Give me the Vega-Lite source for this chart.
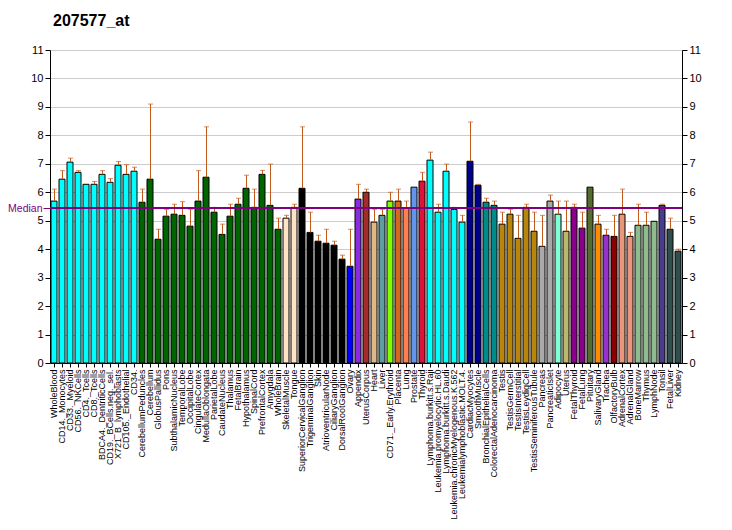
{
  "$schema": "https://vega.github.io/schema/vega-lite/v6.json",
  "width": 632,
  "height": 313,
  "autosize": {"type": "none"},
  "padding": {"left": 50, "top": 50, "right": 50, "bottom": 167},
  "title": {"text": "207577_at", "anchor": "start", "frame": "group", "fontSize": 16, "fontWeight": "bold", "font": "Liberation Sans", "color": "#000000", "offset": 15, "dx": 3},
  "config": {
    "view": {"stroke": null},
    "font": "Liberation Sans",
    "axis": {"labelFont": "Liberation Sans", "labelColor": "#000000", "domainColor": "#000000", "tickColor": "#000000", "titleFont": "Liberation Sans"}
  },
  "data": {"values": [
    {"tissue": "WholeBlood", "group": "blood", "value": 5.69, "err": 6.11},
    {"tissue": "CD14._Monocytes", "group": "blood", "value": 6.46, "err": 6.76},
    {"tissue": "CD33._Myeloid", "group": "blood", "value": 7.06, "err": 7.2},
    {"tissue": "CD56._NKCells", "group": "blood", "value": 6.7, "err": 6.76},
    {"tissue": "CD4._Tcells", "group": "blood", "value": 6.28, "err": null},
    {"tissue": "CD8._Tcells", "group": "blood", "value": 6.28, "err": 6.38},
    {"tissue": "BDCA4._DentriticCells", "group": "blood", "value": 6.63, "err": 6.76},
    {"tissue": "CD19._BCells.neg._sel.", "group": "blood", "value": 6.35, "err": 6.48},
    {"tissue": "X721_B_lymphoblasts", "group": "blood", "value": 6.95, "err": 7.08},
    {"tissue": "CD105._Endothelial", "group": "blood", "value": 6.63, "err": 6.97},
    {"tissue": "CD34.", "group": "blood", "value": 6.74, "err": 6.88},
    {"tissue": "CerebellumPeduncles", "group": "brain", "value": 5.65, "err": 6.11},
    {"tissue": "Cerebellum", "group": "brain", "value": 6.46, "err": 9.1},
    {"tissue": "GlobusPallidus", "group": "brain", "value": 4.35, "err": 4.7},
    {"tissue": "Pons", "group": "brain", "value": 5.16, "err": 5.4},
    {"tissue": "SubthalamicNucleus", "group": "brain", "value": 5.23, "err": 5.58},
    {"tissue": "TemporalLobe", "group": "brain", "value": 5.19, "err": 5.67},
    {"tissue": "OccipitalLobe", "group": "brain", "value": 4.81, "err": 5.4},
    {"tissue": "CingulateCortex", "group": "brain", "value": 5.69, "err": 6.76},
    {"tissue": "MedullaOblongata", "group": "brain", "value": 6.53, "err": 8.3},
    {"tissue": "ParietalLobe", "group": "brain", "value": 5.3, "err": 5.47},
    {"tissue": "CaudateNucleus", "group": "brain", "value": 4.52, "err": 4.88},
    {"tissue": "Thalamus", "group": "brain", "value": 5.16, "err": 5.58},
    {"tissue": "FetalBrain", "group": "brain", "value": 5.58, "err": 5.79},
    {"tissue": "Hypothalamus", "group": "brain", "value": 6.14, "err": 6.6},
    {"tissue": "SpinalCord", "group": "brain", "value": 5.47, "err": 6.11},
    {"tissue": "PrefrontalCortex", "group": "brain", "value": 6.63, "err": 6.77},
    {"tissue": "Amygdala", "group": "brain", "value": 5.54, "err": 6.99},
    {"tissue": "WholeBrain", "group": "brain", "value": 4.7, "err": 5.09},
    {"tissue": "SkeletalMuscle", "group": "muscle", "value": 5.09, "err": 5.19},
    {"tissue": "Tongue", "group": "muscle", "value": 5.47, "err": 5.58},
    {"tissue": "SuperiorCervicalGanglion", "group": "ganglion", "value": 6.14, "err": 8.3},
    {"tissue": "TrigeminalGanglion", "group": "ganglion", "value": 4.59, "err": 5.3},
    {"tissue": "Skin", "group": "ganglion", "value": 4.28, "err": 4.49},
    {"tissue": "AtrioventricularNode", "group": "ganglion", "value": 4.21, "err": 4.7},
    {"tissue": "CiliaryGanglion", "group": "ganglion", "value": 4.14, "err": 4.28},
    {"tissue": "DorsalRootGanglion", "group": "ganglion", "value": 3.65, "err": 3.79},
    {"tissue": "Ovary", "group": "ovary", "value": 3.4, "err": 4.7},
    {"tissue": "Appendix", "group": "appendix", "value": 5.76, "err": 6.28},
    {"tissue": "UterusCorpus", "group": "uteruscorpus", "value": 6.0, "err": 6.11},
    {"tissue": "Heart", "group": "heart", "value": 4.95, "err": 5.4},
    {"tissue": "Liver", "group": "liver", "value": 5.19, "err": 5.4},
    {"tissue": "CD71._Early.Erythroid", "group": "erythroid", "value": 5.69, "err": 6.0},
    {"tissue": "Placenta", "group": "placenta", "value": 5.69, "err": 6.11},
    {"tissue": "Lung", "group": "lung", "value": 5.44, "err": 5.69},
    {"tissue": "Prostate", "group": "prostate", "value": 6.18, "err": null},
    {"tissue": "Thyroid", "group": "thyroid", "value": 6.39, "err": 6.7},
    {"tissue": "Lymphoma.burkitt.s.Raji", "group": "cancer", "value": 7.13, "err": 7.41},
    {"tissue": "Leukemia.promyelocytic.HL.60", "group": "cancer", "value": 5.3, "err": 5.58},
    {"tissue": "Lymphoma.burkitt.s.Daudi", "group": "cancer", "value": 6.74, "err": 6.99},
    {"tissue": "Leukemia.chronicMyelogenous.K.562", "group": "cancer", "value": 5.4, "err": 5.47},
    {"tissue": "Leukemialymphoblastic.MOLT.4.", "group": "cancer", "value": 4.95, "err": 5.19},
    {"tissue": "CardiacMyocytes", "group": "cardiac", "value": 7.09, "err": 8.47},
    {"tissue": "SmoothMuscle", "group": "cardiac", "value": 6.25, "err": 6.28},
    {"tissue": "BronchialEpithelialCells", "group": "epithelial", "value": 5.65, "err": 5.79},
    {"tissue": "ColorectalAdenocarcinoma", "group": "epithelial", "value": 5.54, "err": 5.69},
    {"tissue": "Testis", "group": "testis", "value": 4.88, "err": 5.3},
    {"tissue": "TestisGermCell", "group": "testis", "value": 5.23, "err": 5.4},
    {"tissue": "TestisInterstitial", "group": "testis", "value": 4.38, "err": 5.19},
    {"tissue": "TestisLeydigCell", "group": "testis", "value": 5.47, "err": 5.58},
    {"tissue": "TestisSeminiferousTubule", "group": "testis", "value": 4.63, "err": 5.3},
    {"tissue": "Pancreas", "group": "pancreas", "value": 4.1, "err": 5.19},
    {"tissue": "PancreaticIslet", "group": "pancreas", "value": 5.69, "err": 5.9},
    {"tissue": "Adipocyte", "group": "adipocyte", "value": 5.23, "err": 5.69},
    {"tissue": "Uterus", "group": "uterus", "value": 4.63, "err": 5.69},
    {"tissue": "FetalThyroid", "group": "fetal", "value": 5.47, "err": 5.58},
    {"tissue": "FetalLung", "group": "fetal", "value": 4.74, "err": 5.3},
    {"tissue": "Pituitary", "group": "pituitary", "value": 6.18, "err": null},
    {"tissue": "SalivaryGland", "group": "salivary", "value": 4.88, "err": 5.19},
    {"tissue": "Trachea", "group": "trachea", "value": 4.49, "err": 4.7},
    {"tissue": "OlfactoryBulb", "group": "olfactory", "value": 4.45, "err": 5.19},
    {"tissue": "AdrenalCortex", "group": "adrenal", "value": 5.23, "err": 6.11},
    {"tissue": "AdrenalGland", "group": "adrenal", "value": 4.45, "err": 4.59},
    {"tissue": "BoneMarrow", "group": "immune", "value": 4.84, "err": 5.58},
    {"tissue": "Thymus", "group": "immune", "value": 4.84, "err": 5.3},
    {"tissue": "LymphNode", "group": "immune", "value": 4.98, "err": null},
    {"tissue": "Tonsil", "group": "tonsil", "value": 5.54, "err": 5.58},
    {"tissue": "FetalLiver", "group": "fetalliver", "value": 4.7, "err": 5.09},
    {"tissue": "Kidney", "group": "fetalliver", "value": 3.93, "err": 4.0}
  ]},
  "layer": [
    {
      "mark": {"type": "bar", "stroke": "#000000", "strokeWidth": 1},
      "encoding": {
        "x": {
          "field": "tissue", "type": "nominal", "sort": null, "title": null,
          "scale": {"paddingInner": 0.25, "paddingOuter": 0.125},
          "axis": {"labelAngle": -90, "labelFontSize": 9, "labelPadding": 2, "tickSize": 4, "labelLimit": 0, "domainColor": "#000000"}
        },
        "y": {"field": "value", "type": "quantitative", "title": null,
          "scale": {"domain": [0, 11], "nice": false, "zero": true},
          "axis": {"orient": "left", "values": [0,1,2,3,4,5,6,7,8,9,10,11], "grid": true, "gridColor": "#CCCCCC", "labelFontSize": 11, "tickSize": 5, "labelPadding": 2}},
        "color": {"field": "group", "type": "nominal", "legend": null,
          "scale": {
            "domain": ["blood","brain","muscle","ganglion","ovary","appendix","uteruscorpus","heart","liver","erythroid","placenta","lung","prostate","thyroid","cancer","cardiac","epithelial","testis","pancreas","adipocyte","uterus","fetal","pituitary","salivary","trachea","olfactory","adrenal","immune","tonsil","fetalliver"],
            "range": ["#00FFFF","#006400","#FFE4C4","#000000","#0000FF","#8A2BE2","#A52A2A","#DEB887","#5F9EA0","#7FFF00","#D2691E","#FF7F50","#6495ED","#DC143C","#00FFFF","#00008B","#008B8B","#B8860B","#A9A9A9","#7FFFD4","#BDB76B","#8B008B","#556B2F","#FF8C00","#9932CC","#8B0000","#E9967A","#8FBC8F","#483D8B","#2F4F4F"]
          }}
      }
    },
    {
      "transform": [{"filter": "isValid(datum.err)"}],
      "mark": {"type": "rule", "color": "#C25A1C", "strokeWidth": 1, "xOffset": 0.5},
      "encoding": {
        "x": {"field": "tissue", "type": "nominal", "sort": null},
        "y": {"field": "value", "type": "quantitative", "axis": null},
        "y2": {"field": "err"}
      }
    },
    {
      "transform": [{"filter": "isValid(datum.err)"}],
      "mark": {"type": "tick", "color": "#C25A1C", "size": 5, "thickness": 1, "orient": "horizontal", "xOffset": 0.5},
      "encoding": {
        "x": {"field": "tissue", "type": "nominal", "sort": null},
        "y": {"field": "err", "type": "quantitative", "title": null,
          "axis": {"orient": "right", "values": [0,1,2,3,4,5,6,7,8,9,10,11], "grid": false, "labelFontSize": 11, "tickSize": 5, "labelPadding": 2}}
      }
    },
    {
      "mark": {"type": "rule", "color": "#800080", "strokeWidth": 1},
      "encoding": {
        "y": {"datum": 5.44, "type": "quantitative", "title": null,
          "axis": {"orient": "left", "values": [5.44], "labelExpr": "'Median'", "grid": false, "domain": false, "tickColor": "#800080", "tickSize": 7, "labelColor": "#800080", "labelFontSize": 10.5, "labelPadding": 1}}
      }
    }
  ],
  "resolve": {"axis": {"y": "independent"}}
}
